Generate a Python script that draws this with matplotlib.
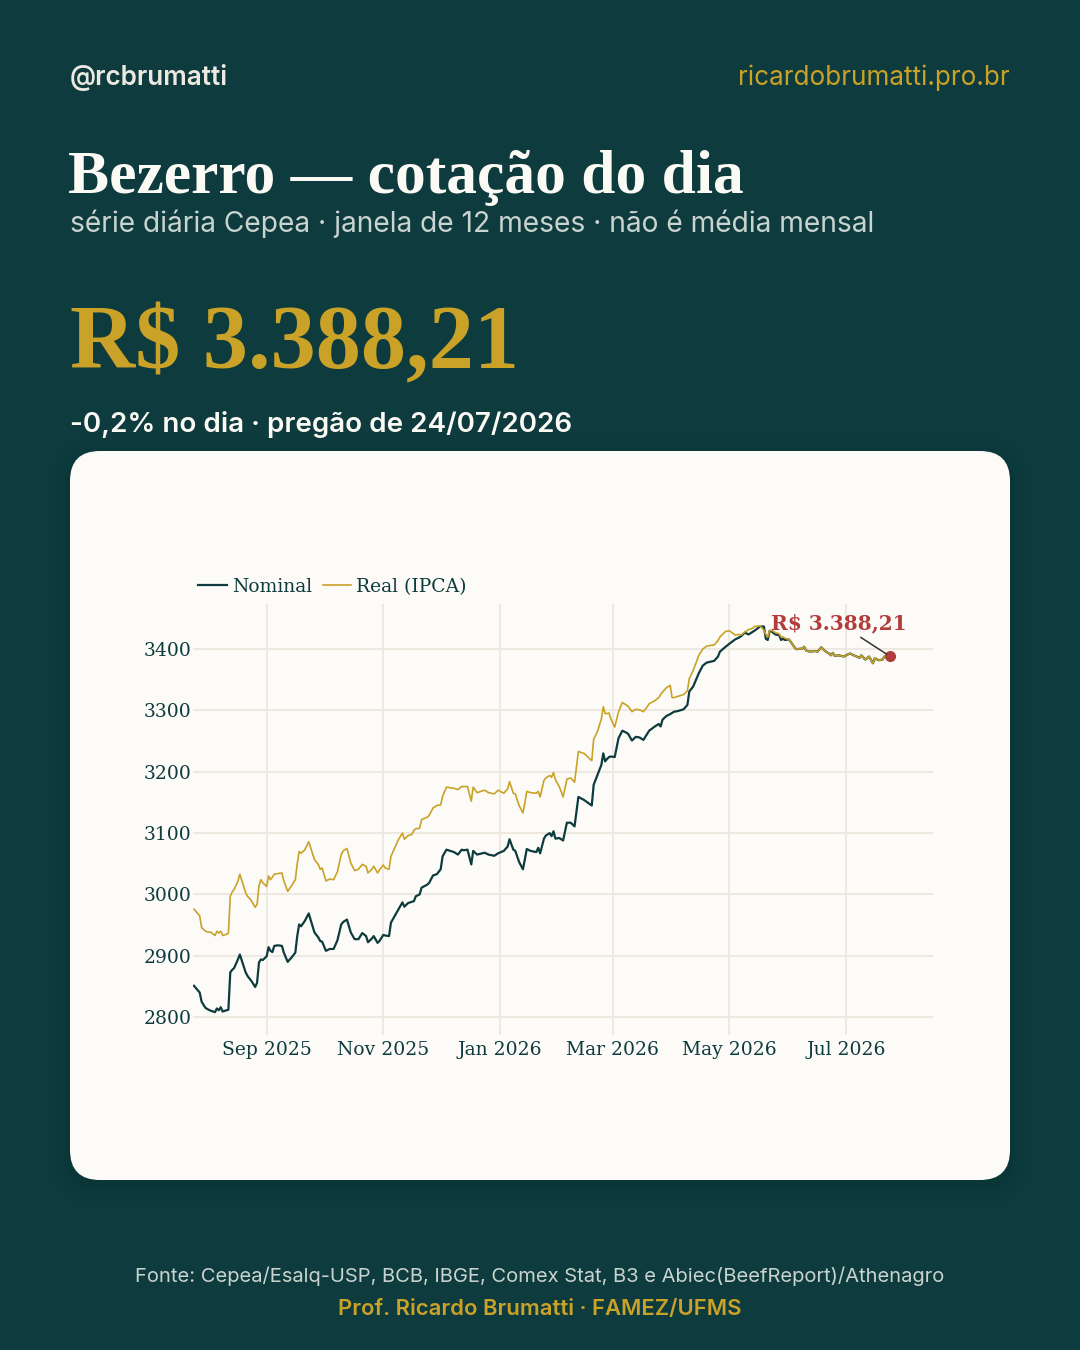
import matplotlib
matplotlib.use('Agg')
import matplotlib.pyplot as plt
import matplotlib.dates as mdates
from matplotlib.patches import FancyBboxPatch
import pandas as pd

BG = '#0e3b3d'
GOLD = '#c9a227'
CARD = '#fcfbf8'
TEAL = '#0e3b3d'
RED = '#b23b3b'
GRID = '#ece8df'
LIGHT = '#ece9e1'
SUB = '#c9d3cf'

# serie diaria
datas = [
    '2025-07-25', '2025-07-28', '2025-07-29', '2025-07-31', '2025-08-01', '2025-08-03',
    '2025-08-05', '2025-08-06', '2025-08-07', '2025-08-08', '2025-08-09', '2025-08-11',
    '2025-08-12', '2025-08-13', '2025-08-14', '2025-08-15', '2025-08-17', '2025-08-18',
    '2025-08-21', '2025-08-22', '2025-08-24', '2025-08-26', '2025-08-27', '2025-08-28',
    '2025-08-29', '2025-08-30', '2025-09-01', '2025-09-02', '2025-09-03', '2025-09-04',
    '2025-09-05', '2025-09-07', '2025-09-09', '2025-09-10', '2025-09-12', '2025-09-14',
    '2025-09-16', '2025-09-17', '2025-09-18', '2025-09-19', '2025-09-21', '2025-09-23',
    '2025-09-26', '2025-09-28', '2025-09-29', '2025-09-30', '2025-10-02', '2025-10-04',
    '2025-10-06', '2025-10-08', '2025-10-10', '2025-10-11', '2025-10-13', '2025-10-15',
    '2025-10-17', '2025-10-19', '2025-10-21', '2025-10-23', '2025-10-24', '2025-10-26',
    '2025-10-27', '2025-10-29', '2025-10-30', '2025-11-01', '2025-11-02', '2025-11-04',
    '2025-11-05', '2025-11-07', '2025-11-09', '2025-11-11', '2025-11-12', '2025-11-14',
    '2025-11-16', '2025-11-17', '2025-11-18', '2025-11-20', '2025-11-21', '2025-11-24',
    '2025-11-25', '2025-11-27', '2025-11-29', '2025-12-01', '2025-12-02', '2025-12-04',
    '2025-12-06', '2025-12-08', '2025-12-10', '2025-12-12', '2025-12-13', '2025-12-15',
    '2025-12-17', '2025-12-18', '2025-12-20', '2025-12-24', '2025-12-26', '2025-12-29',
    '2025-12-31', '2026-01-03', '2026-01-05', '2026-01-06', '2026-01-08', '2026-01-09',
    '2026-01-11', '2026-01-13', '2026-01-14', '2026-01-15', '2026-01-17', '2026-01-20',
    '2026-01-21', '2026-01-22', '2026-01-24', '2026-01-25', '2026-01-27', '2026-01-28',
    '2026-01-29', '2026-01-30', '2026-02-01', '2026-02-03', '2026-02-05', '2026-02-07',
    '2026-02-09', '2026-02-11', '2026-02-14', '2026-02-18', '2026-02-19', '2026-02-21',
    '2026-02-23', '2026-02-24', '2026-02-25', '2026-02-26', '2026-02-27', '2026-02-28',
    '2026-03-02', '2026-03-04', '2026-03-06', '2026-03-08', '2026-03-09', '2026-03-11',
    '2026-03-13', '2026-03-15', '2026-03-17', '2026-03-19', '2026-03-20', '2026-03-23',
    '2026-03-25', '2026-03-26', '2026-03-27', '2026-03-29', '2026-03-31', '2026-04-01',
    '2026-04-02', '2026-04-04', '2026-04-07', '2026-04-09', '2026-04-10', '2026-04-12',
    '2026-04-15', '2026-04-17', '2026-04-19', '2026-04-23', '2026-04-25', '2026-04-26',
    '2026-04-29', '2026-05-01', '2026-05-04', '2026-05-06', '2026-05-07', '2026-05-09',
    '2026-05-11', '2026-05-13', '2026-05-14', '2026-05-17', '2026-05-19', '2026-05-20',
    '2026-05-21', '2026-05-22', '2026-05-23', '2026-05-25', '2026-05-27', '2026-05-28',
    '2026-05-29', '2026-05-30', '2026-06-01', '2026-06-02', '2026-06-04', '2026-06-05',
    '2026-06-08', '2026-06-09', '2026-06-10', '2026-06-12', '2026-06-15', '2026-06-16',
    '2026-06-18', '2026-06-20', '2026-06-22', '2026-06-23', '2026-06-24', '2026-06-25',
    '2026-06-27', '2026-06-30', '2026-07-01', '2026-07-03', '2026-07-05', '2026-07-08',
    '2026-07-09', '2026-07-11', '2026-07-13', '2026-07-15', '2026-07-16', '2026-07-18',
    '2026-07-20', '2026-07-21', '2026-07-24',
]

nominal = [
    2851, 2840, 2825, 2815, 2813, 2810, 2808, 2814, 2811, 2816, 2809, 2811,
    2812, 2873, 2877, 2880, 2894, 2902, 2873, 2867, 2859, 2849, 2856, 2889,
    2894, 2893, 2899, 2914, 2908, 2906, 2916, 2917, 2916, 2905, 2890, 2897,
    2905, 2932, 2951, 2948, 2957, 2969, 2938, 2930, 2924, 2923, 2908, 2911,
    2911, 2925, 2951, 2955, 2959, 2938, 2927, 2927, 2937, 2932, 2922, 2928,
    2932, 2921, 2924, 2934, 2933, 2932, 2954, 2965, 2976, 2987, 2980, 2986,
    2988, 2989, 2997, 3000, 3011, 3016, 3019, 3031, 3033, 3041, 3062, 3073,
    3071, 3069, 3065, 3073, 3072, 3073, 3049, 3071, 3065, 3068, 3065, 3063,
    3067, 3071, 3078, 3090, 3073, 3071, 3053, 3041, 3057, 3074, 3071, 3069,
    3076, 3067, 3091, 3096, 3100, 3095, 3103, 3091, 3092, 3088, 3117, 3117,
    3111, 3159, 3154, 3145, 3179, 3195, 3211, 3230, 3217, 3221, 3224, 3225,
    3224, 3255, 3267, 3264, 3262, 3251, 3257, 3256, 3252, 3262, 3267, 3274,
    3278, 3274, 3285, 3291, 3294, 3296, 3298, 3299, 3302, 3309, 3331, 3339,
    3361, 3373, 3378, 3381, 3388, 3396, 3404, 3409, 3416, 3419, 3421, 3427,
    3424, 3428, 3430, 3437, 3437, 3417, 3415, 3430, 3429, 3424, 3423, 3415,
    3417, 3415, 3416, 3412, 3403, 3400, 3401, 3404, 3398, 3396, 3397, 3396,
    3403, 3397, 3393, 3390, 3394, 3389, 3390, 3388, 3390, 3393, 3390, 3386,
    3390, 3383, 3388, 3377, 3385, 3382, 3383, 3388, 3388.21,
]

real = [
    2976, 2965, 2946, 2940, 2939, 2938, 2933, 2940, 2937, 2940, 2933, 2935,
    2937, 2997, 3004, 3008, 3022, 3033, 3003, 2997, 2990, 2979, 2984, 3014,
    3024, 3019, 3013, 3030, 3024, 3028, 3033, 3034, 3035, 3022, 3005, 3014,
    3024, 3050, 3070, 3067, 3073, 3086, 3057, 3049, 3041, 3043, 3022, 3025,
    3024, 3037, 3065, 3071, 3075, 3051, 3039, 3041, 3049, 3046, 3035, 3041,
    3046, 3035, 3040, 3048, 3043, 3041, 3062, 3076, 3090, 3100, 3090, 3096,
    3098, 3105, 3107, 3108, 3122, 3126, 3129, 3141, 3145, 3146, 3160, 3175,
    3174, 3173, 3171, 3176, 3176, 3176, 3152, 3175, 3166, 3170, 3166, 3164,
    3170, 3165, 3172, 3184, 3165, 3164, 3145, 3133, 3149, 3168, 3166, 3165,
    3168, 3159, 3186, 3190, 3194, 3191, 3199, 3187, 3176, 3159, 3188, 3190,
    3183, 3233, 3230, 3218, 3253, 3266, 3286, 3306, 3295, 3295, 3296, 3286,
    3273, 3298, 3313, 3309, 3307, 3298, 3302, 3301, 3298, 3306, 3311, 3316,
    3321, 3326, 3330, 3337, 3341, 3321, 3321, 3323, 3326, 3332, 3352, 3365,
    3390, 3400, 3405, 3407, 3414, 3420, 3429, 3430, 3423, 3424, 3423, 3428,
    3432, 3434, 3437, 3438, 3431, 3424, 3420, 3430, 3431, 3427, 3425, 3420,
    3420, 3418, 3416, 3412, 3403, 3400, 3401, 3404, 3398, 3396, 3397, 3396,
    3403, 3397, 3393, 3390, 3394, 3389, 3390, 3388, 3390, 3393, 3390, 3386,
    3390, 3383, 3388, 3377, 3385, 3382, 3383, 3388, 3388.21,
]

ultimo = 'R$ 3.388,21'
variacao = '-0,2% no dia · pregão de 24/07/2026'

df = pd.DataFrame({'data': pd.to_datetime(datas), 'nominal': nominal, 'real': real})

W, H = 1080, 1350
fig = plt.figure(figsize=(W / 100, H / 100), dpi=100)
fig.patch.set_facecolor(BG)

# camada de fundo em pixels
bg = fig.add_axes([0, 0, 1, 1])
bg.set_xlim(0, W)
bg.set_ylim(H, 0)
bg.axis('off')

for i, a in enumerate([0.02, 0.016, 0.012, 0.008]):
    d = 4 + i * 5
    bg.add_patch(FancyBboxPatch((70 - d, 451 - d + 6), 940 + 2 * d, 729 + 2 * d,
                                boxstyle='round,pad=0,rounding_size=%d' % (30 + d),
                                facecolor='black', edgecolor='none', alpha=a))
bg.add_patch(FancyBboxPatch((70, 451), 940, 729, boxstyle='round,pad=0,rounding_size=30',
                            facecolor=CARD, edgecolor='none'))

sans = ['Inter', 'DejaVu Sans']
serif_title = ['Liberation Serif', 'DejaVu Serif']

bg.text(70, 85, '@rcbrumatti', family=sans, fontsize=18.8, weight='semibold', color=LIGHT, va='baseline')
bg.text(1010, 85, 'ricardobrumatti.pro.br', family=sans, fontsize=18.8, color=GOLD, ha='right', va='baseline')
bg.text(68, 193, 'Bezerro — cotação do dia', family=serif_title, fontsize=44.3, weight='bold', color='#fbfaf5', va='baseline')
bg.text(70, 232, 'série diária Cepea · janela de 12 meses · não é média mensal', family=sans, fontsize=20.3,
        color=SUB, va='baseline')
bg.text(70, 368, ultimo, family=serif_title, fontsize=65, weight='bold', color=GOLD, va='baseline')
bg.text(70, 432, variacao, family=sans, fontsize=20, weight='semibold', color='#fbfaf5', va='baseline')
bg.text(540, 1282, 'Fonte: Cepea/Esalq-USP, BCB, IBGE, Comex Stat, B3 e Abiec(BeefReport)/Athenagro',
        family=sans, fontsize=14.5, color=SUB, ha='center', va='baseline')
bg.text(540, 1315, 'Prof. Ricardo Brumatti · FAMEZ/UFMS', family=sans, fontsize=15.9, weight='semibold',
        color=GOLD, ha='center', va='baseline')

# grafico
ax = fig.add_axes([193 / W, (H - 1035) / H, 740 / W, 431 / H])
ax.set_facecolor(CARD)
ax.plot(df['data'], df['nominal'], color=TEAL, lw=1.6, label='Nominal', zorder=3)
ax.plot(df['data'], df['real'], color=GOLD, lw=1.2, label='Real (IPCA)', zorder=4)
ax.plot(df['data'].iloc[-1], df['nominal'].iloc[-1], 'o', color=RED, ms=7, zorder=6)
ax.annotate(ultimo, xy=(df['data'].iloc[-1], df['nominal'].iloc[-1]), xytext=(-37, 24),
            textcoords='offset points', ha='center', va='center', fontsize=14.5, weight='bold',
            family='DejaVu Serif', color=RED,
            arrowprops=dict(arrowstyle='-', color='#333333', lw=1.1, shrinkB=3), zorder=7)

ax.set_xlim(pd.Timestamp('2025-07-24 12:00'), pd.Timestamp('2026-08-15 10:00'))
ax.set_ylim(2770.7, 3473.7)
ax.set_yticks([2800, 2900, 3000, 3100, 3200, 3300, 3400])
ax.xaxis.set_major_locator(mdates.MonthLocator(bymonth=[1, 3, 5, 7, 9, 11]))
ax.xaxis.set_major_formatter(mdates.DateFormatter('%b %Y'))
ax.grid(True, color=GRID, lw=1.3)
ax.set_axisbelow(True)
for s in ax.spines.values():
    s.set_visible(False)
ax.tick_params(length=0, labelsize=13.5, labelcolor=TEAL)
ax.tick_params(axis='y', pad=1)
ax.tick_params(axis='x', pad=4)
for lab in ax.get_xticklabels() + ax.get_yticklabels():
    lab.set_family('DejaVu Serif')

leg = fig.legend(handles=ax.get_lines()[:2], loc='center left', bbox_to_anchor=(189 / W, 1 - 587 / H),
                 ncol=2, frameon=False, borderpad=0, handlelength=1.5, handletextpad=0.3,
                 columnspacing=0.55, prop={'family': 'DejaVu Serif', 'size': 13.5})
for t in leg.get_texts():
    t.set_color(TEAL)

fig.savefig('out.png', dpi=100, facecolor=BG)
